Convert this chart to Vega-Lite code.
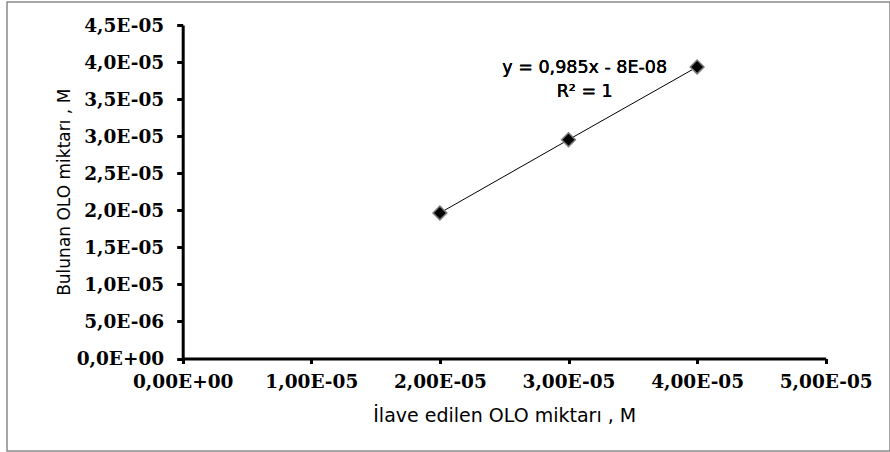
{
  "$schema": "https://vega.github.io/schema/vega-lite/v6.json",
  "autosize": "none",
  "width": 883,
  "height": 449,
  "padding": {"left": 7, "top": 2, "right": 0, "bottom": 1},
  "background": "white",
  "config": {
    "view": {"stroke": "#898989", "strokeWidth": 1.5},
    "axis": {"grid": false}
  },
  "data": {
    "values": [
      {"added": 2e-5, "found": 1.964e-5},
      {"added": 3e-5, "found": 2.952e-5},
      {"added": 4e-5, "found": 3.934e-5}
    ]
  },
  "encoding": {
    "x": {
      "field": "added",
      "type": "quantitative",
      "scale": {"domain": [0, 5e-5], "range": [175.7, 818.7], "nice": false, "zero": false},
      "axis": {
        "title": "İlave edilen OLO miktarı , M",
        "offset": -92.5,
        "values": [0, 1e-5, 2e-5, 3e-5, 4e-5, 5e-5],
        "labelExpr": "datum.value == 0 ? '0,00E+00' : replace(format(datum.value / pow(10, floor(log(datum.value)/LN10 + 1e-9)), '.2f'), '.', ',') + 'E-' + format(-floor(log(datum.value)/LN10 + 1e-9), '02d')",
        "domainColor": "black",
        "domainWidth": 3,
        "tickColor": "black",
        "tickWidth": 3,
        "tickSize": 5,
        "labelFont": "DejaVu Serif",
        "labelFontWeight": "bold",
        "labelFontSize": 18.5,
        "labelColor": "black",
        "labelPadding": 9,
        "labelFlush": false,
        "labelOverlap": false,
        "titleFont": "DejaVu Sans",
        "titleFontWeight": "normal",
        "titleFontSize": 19,
        "titleColor": "black",
        "titlePadding": 15
      }
    },
    "y": {
      "field": "found",
      "type": "quantitative",
      "scale": {"domain": [0, 4.5e-5], "range": [356.5, 23], "nice": false, "zero": false},
      "axis": {
        "title": "Bulunan OLO miktarı , M",
        "offset": -175.7,
        "values": [0, 5e-6, 1e-5, 1.5e-5, 2e-5, 2.5e-5, 3e-5, 3.5e-5, 4e-5, 4.5e-5],
        "labelExpr": "datum.value == 0 ? '0,0E+00' : replace(format(datum.value / pow(10, floor(log(datum.value)/LN10 + 1e-9)), '.1f'), '.', ',') + 'E-' + format(-floor(log(datum.value)/LN10 + 1e-9), '02d')",
        "domainColor": "black",
        "domainWidth": 3,
        "tickColor": "black",
        "tickWidth": 3,
        "tickSize": 6,
        "labelFont": "DejaVu Serif",
        "labelFontWeight": "bold",
        "labelFontSize": 18.5,
        "labelColor": "black",
        "labelPadding": 13,
        "labelFlush": false,
        "labelOverlap": false,
        "titleFont": "DejaVu Sans",
        "titleFontWeight": "normal",
        "titleFontSize": 17,
        "titleColor": "black",
        "titlePadding": 3
      }
    }
  },
  "layer": [
    {
      "mark": {"type": "line", "color": "black", "strokeWidth": 1}
    },
    {
      "mark": {"type": "point", "shape": "diamond", "filled": true, "fill": "black", "stroke": "#7a7a7a", "strokeWidth": 1.5, "size": 190, "opacity": 1}
    },
    {
      "mark": {
        "type": "text",
        "text": ["y = 0,985x - 8E-08", "R² = 1"],
        "font": "DejaVu Sans",
        "fontSize": 17.5,
        "fontWeight": "normal",
        "lineHeight": 24,
        "align": "center",
        "baseline": "middle",
        "color": "black"
      },
      "encoding": {
        "x": {"datum": 3.126e-5, "type": "quantitative"},
        "y": {"datum": 3.92e-5, "type": "quantitative"}
      }
    }
  ]
}
